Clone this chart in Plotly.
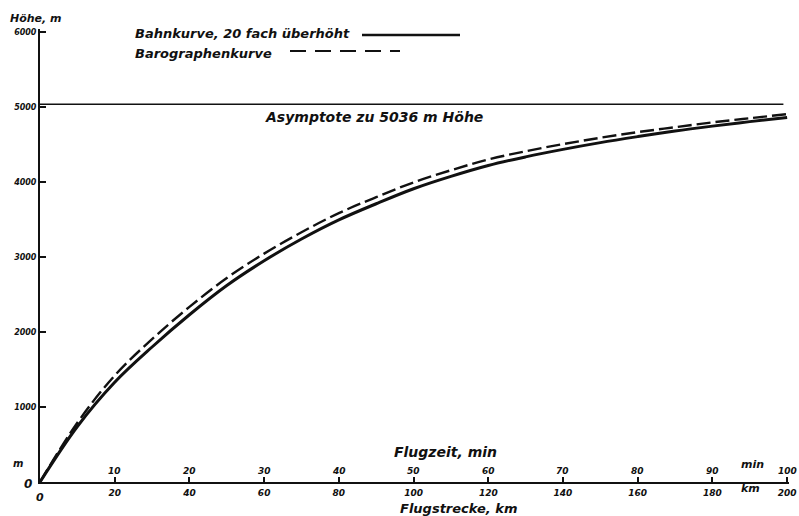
import plotly.graph_objects as go

# ---- data ----
strecke_km = [0, 10, 20, 30, 40, 50, 60, 70, 80, 90, 100, 110, 120, 130, 140, 150, 160, 170, 180, 190, 200]
bahnkurve_m = [0, 740, 1330, 1800, 2230, 2620, 2950, 3240, 3495, 3710, 3910, 4075, 4220, 4335, 4435, 4525, 4605, 4680, 4745, 4805, 4860]
barograph_m = [0, 790, 1420, 1905, 2335, 2720, 3045, 3330, 3585, 3798, 3995, 4157, 4300, 4410, 4505, 4590, 4665, 4730, 4795, 4850, 4905]
asymptote_m = 5036
asymptote_x = [0, 199]

km_ticks = [20, 40, 60, 80, 100, 120, 140, 160, 180, 200]
min_ticks = [10, 20, 30, 40, 50, 60, 70, 80, 90, 100]
hoehe_ticks = [1000, 2000, 3000, 4000, 5000, 6000]

FONT = "DejaVu Sans"
INK = "#111111"

L, R, T, B = 40, 10, 29, 34
W, H = 799, 516
PW, PH = W - L - R, H - T - B


def px(x):  # page pixel -> paper x
    return (x - L) / PW


def py(y):  # page pixel -> paper y
    return 1 - (y - T) / PH


fig = go.Figure()

fig.add_trace(go.Scatter(x=asymptote_x, y=[asymptote_m] * 2, mode="lines",
                         line=dict(color=INK, width=1.6), showlegend=False, hoverinfo="skip"))
fig.add_trace(go.Scatter(x=strecke_km, y=barograph_m, mode="lines", line_shape="spline",
                         line=dict(color=INK, width=2.4, dash="14px,5px"), showlegend=False))
fig.add_trace(go.Scatter(x=strecke_km, y=bahnkurve_m, mode="lines", line_shape="spline",
                         line=dict(color=INK, width=3), showlegend=False))

fig.update_xaxes(range=[0, 200.5], automargin=False, showgrid=False, zeroline=False, showline=True,
                 linecolor=INK, linewidth=2, ticks="inside", ticklen=5, tickwidth=1.5,
                 tickcolor=INK, tickvals=km_ticks, ticktext=[str(v) for v in km_ticks],
                 ticklabelstandoff=1,
                 tickfont=dict(family=FONT, size=9, color=INK, weight="bold", style="italic"))
fig.update_yaxes(range=[0, 6040], automargin=False, showgrid=False, zeroline=False, showline=True,
                 linecolor=INK, linewidth=2, ticks="inside", ticklen=6, tickwidth=1.5,
                 tickcolor=INK, tickvals=hoehe_ticks, ticktext=[str(v) for v in hoehe_ticks],
                 tickfont=dict(family=FONT, size=8, color=INK, weight="bold", style="italic"))

ann = []


def txt(x, y, s, size=13, xanchor="center", yanchor="middle", xref="paper", yref="paper"):
    ann.append(dict(x=x, y=y, xref=xref, yref=yref, text=s, showarrow=False,
                    xanchor=xanchor, yanchor=yanchor,
                    font=dict(family=FONT, size=size, color=INK, weight="bold", style="italic")))


for km, mn in zip(km_ticks, min_ticks):
    txt(km, py(471), str(mn), size=9, xref="x")

txt(px(40), py(497), "0", size=11)
txt(px(28), py(484), "0", size=12)
txt(px(18), py(463), "m", size=10)
txt(px(752), py(464), "min", size=11)
txt(px(750), py(488), "km", size=11)
txt(px(445), py(452), "Flugzeit, min", size=14)
txt(px(458), py(508), "Flugstrecke, km", size=13)
txt(px(374), py(117), "Asymptote zu 5036 m Höhe", size=14)
txt(px(36), py(19), "Höhe, m", size=11)
txt(px(133), py(33), "Bahnkurve, 20 fach überhöht", size=13, xanchor="left")
txt(px(133), py(53), "Barographenkurve", size=13, xanchor="left")

fig.update_layout(
    width=W, height=H,
    margin=dict(l=L, r=R, t=T, b=B),
    paper_bgcolor="white", plot_bgcolor="white",
    annotations=ann,
    shapes=[
        dict(type="line", xref="paper", yref="paper", x0=px(362), x1=px(460), y0=py(35), y1=py(35),
             line=dict(color=INK, width=2.5)),
        dict(type="line", xref="paper", yref="paper", x0=px(290), x1=px(400), y0=py(51), y1=py(51),
             line=dict(color=INK, width=2.2, dash="16px,9px")),
    ],
)

fig.write_html("out.html",
               config={"displayModeBar": False},
               post_script="document.body.style.margin='0';document.body.style.overflow='hidden';")
